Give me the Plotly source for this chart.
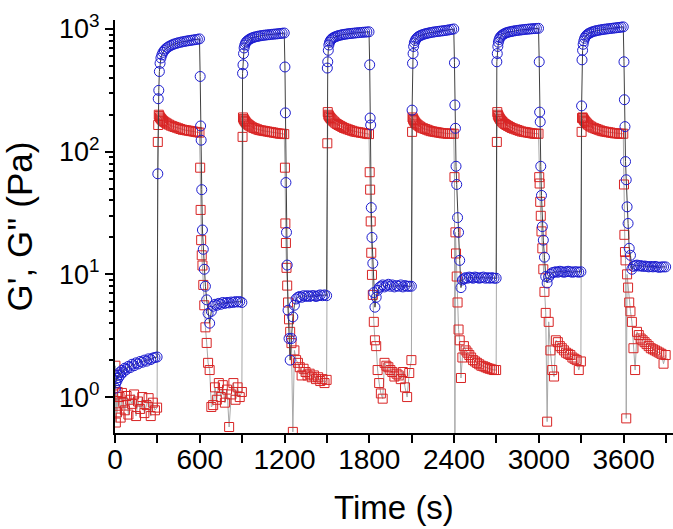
import plotly.graph_objects as go

# start time of each strain step (s) and the sampling times inside one step (s)
step_start = [0, 300, 600, 900, 1200, 1500, 1800, 2100, 2400, 2700, 3000, 3300, 3600]
step_offsets = [3, 6, 10, 14, 19, 25, 32, 40, 49, 59, 70, 82, 95, 108, 121, 135,
                149, 163, 178, 193, 208, 223, 238, 253, 268, 283, 298]

# G' (Pa), one list per step
g1_0 = [1.18, 1.3, 1.42, 1.36, 1.5, 1.44, 1.58, 1.52, 1.65, 1.6, 1.72, 1.68, 1.78, 1.74,
        1.85, 1.8, 1.9, 1.86, 1.95, 1.92, 2.0, 1.96, 2.05, 2.02, 2.08, 2.1, 2.12]
g1_300 = [66, 270, 316, 450, 525, 580, 615, 645, 668, 688, 705, 720, 733, 745, 755, 764,
          772, 779, 786, 792, 798, 803, 808, 813, 818, 823, 830]
g1_600 = [410, 162, 124, 49, 23, 16, 11, 8, 6.2, 4.8, 4.0, 5.0, 5.5, 5.7, 5.6, 5.8, 5.7,
          5.9, 5.8, 5.9, 5.85, 5.95, 5.9, 6.0, 5.95, 6.0, 5.9]
g1_900 = [435, 510, 630, 700, 740, 770, 790, 805, 820, 833, 845, 855, 863, 870, 876, 882,
          887, 891, 895, 899, 903, 907, 910, 914, 918, 922, 927]
g1_1200 = [490, 207, 56, 22, 11.9, 5.1, 3.0, 2.0, 3.0, 4.5, 5.6, 6.3, 6.5, 6.6, 6.5, 6.7,
           6.6, 6.7, 6.6, 6.7, 6.7, 6.6, 6.7, 6.8, 6.7, 6.8, 6.7]
g1_1500 = [480, 540, 670, 740, 780, 805, 825, 840, 852, 863, 873, 882, 890, 897, 903, 908,
           913, 917, 921, 925, 929, 933, 936, 939, 942, 945, 948]
g1_1800 = [510, 188, 165, 35, 20, 12.3, 7.1, 5.4, 6.5, 7.4, 7.8, 8.0, 8.2, 7.9, 8.1, 8.3,
           8.0, 8.2, 7.9, 8.1, 8.0, 8.2, 7.9, 8.1, 8.0, 8.0, 8.0]
g1_2100 = [218, 525, 630, 720, 770, 805, 830, 850, 866, 880, 892, 903, 912, 920, 928, 935,
           941, 947, 952, 957, 962, 967, 972, 978, 985, 992, 1000]
g1_2400 = [530, 240, 155, 76, 54, 29, 22, 13, 7.8, 9.0, 9.2, 9.4, 9.3, 9.5, 9.4, 9.3, 9.5,
           9.4, 9.3, 9.4, 9.5, 9.3, 9.4, 9.3, 9.4, 9.3, 9.3]
g1_2700 = [540, 630, 720, 780, 820, 850, 872, 890, 905, 918, 930, 940, 948, 955, 962, 968,
           973, 978, 983, 988, 992, 996, 1000, 1004, 1007, 1010, 1012]
g1_3000 = [540, 210, 175, 76, 44, 24.5, 19, 13.8, 9.6, 8.5, 9.5, 10.0, 10.3, 10.4, 10.5,
           10.4, 10.6, 10.5, 10.4, 10.5, 10.6, 10.5, 10.4, 10.5, 10.5, 10.4, 10.5]
g1_3300 = [236, 560, 670, 750, 800, 840, 870, 892, 910, 925, 938, 950, 960, 968, 975, 982,
           988, 994, 999, 1004, 1009, 1014, 1019, 1024, 1029, 1034, 1040]
g1_3600 = [540, 265, 160, 83, 59, 35.5, 26, 16.3, 14.3, 11.0, 11.6, 11.8, 11.9, 11.7, 11.8,
           11.6, 11.7, 11.6, 11.5, 11.6, 11.5, 11.6, 11.5, 11.4, 11.5, 11.5, 11.5]

# G'' (Pa), one list per step
g2_0 = [1.8, 0.62, 1.05, 0.75, 1.1, 0.85, 1.0, 0.68, 1.08, 0.9, 0.78, 1.02, 0.72, 0.95,
        0.88, 1.05, 0.7, 0.92, 0.8, 1.0, 0.74, 0.86, 0.98, 0.7, 0.9, 0.78, 0.82]
g2_300 = [120, 165, 200, 195, 190, 186, 182, 178, 175, 172, 169, 166, 163, 161, 159, 157,
          155, 153, 151, 150, 149, 148, 147, 146, 145, 144, 143]
g2_600 = [74, 33.5, 19, 14.3, 11.8, 8.2, 5.6, 3.7, 2.76, 1.9, 1.66, 0.83, 0.86, 1.2, 0.95,
          1.3, 1.0, 1.25, 0.9, 1.15, 0.57, 1.05, 1.3, 0.95, 1.2, 1.0, 1.1]
g2_900 = [132, 190, 185, 182, 178, 174, 170, 167, 164, 161, 158, 156, 154, 152, 150, 149,
          148, 147, 146, 145, 144, 143, 142, 141, 140, 140, 139]
g2_1200 = [74, 26, 18, 11.3, 8.1, 5.9, 4.3, 3.4, 2.75, 0.52, 2.4, 2.0, 1.9, 1.75, 1.5, 1.7,
           1.6, 1.5, 1.55, 1.45, 1.5, 1.4, 1.45, 1.35, 1.4, 1.3, 1.38]
g2_1500 = [117, 210, 200, 196, 192, 188, 184, 180, 176, 172, 168, 165, 162, 159, 156, 154,
           152, 150, 148, 146, 145, 144, 143, 142, 141, 140, 139]
g2_1800 = [68, 49, 27, 15, 9.9, 6.8, 4.1, 2.9, 2.6, 1.66, 1.3, 1.07, 0.97, 1.9, 1.8, 1.75,
           1.66, 1.6, 1.47, 1.55, 1.5, 1.4, 1.6, 1.2, 1.0, 1.57, 2.0]
g2_2100 = [145, 190, 185, 181, 177, 173, 169, 166, 163, 160, 157, 155, 153, 151, 149, 147,
           146, 145, 144, 143, 142, 141, 141, 140, 140, 140, 140]
g2_2400 = [62, 0.3, 22, 14.8, 9.6, 5.9, 3.55, 2.9, 1.43, 2.1, 2.6, 2.4, 2.3, 2.2, 2.1, 2.0,
           1.95, 1.9, 1.85, 1.8, 1.78, 1.75, 1.72, 1.7, 1.68, 1.66, 1.66]
g2_2700 = [120, 210, 200, 195, 190, 185, 180, 176, 172, 168, 165, 162, 159, 156, 154, 152,
           150, 148, 146, 145, 144, 143, 142, 141, 140, 140, 140]
g2_3000 = [62, 55, 39, 30, 22.4, 16.3, 11, 7.2, 4.85, 0.63, 4.1, 2.4, 1.66, 1.47, 2.9, 2.8,
           2.6, 2.5, 2.4, 2.3, 2.25, 2.2, 2.1, 2.05, 2.0, 1.66, 1.95]
g2_3300 = [145, 188, 190, 186, 182, 178, 174, 170, 166, 163, 160, 157, 155, 153, 151, 149,
           147, 146, 145, 144, 143, 142, 141, 141, 140, 140, 140]
g2_3600 = [54, 21, 15.2, 13, 0.67, 10, 7.8, 5.9, 5.0, 4.1, 2.5, 1.66, 3.4, 3.2, 3.0, 2.9,
           2.8, 2.7, 2.6, 2.5, 2.45, 2.4, 2.35, 2.3, 2.25, 1.87, 2.2]

g1_steps = [g1_0, g1_300, g1_600, g1_900, g1_1200, g1_1500, g1_1800, g1_2100, g1_2400,
            g1_2700, g1_3000, g1_3300, g1_3600]
g2_steps = [g2_0, g2_300, g2_600, g2_900, g2_1200, g2_1500, g2_1800, g2_2100, g2_2400,
            g2_2700, g2_3000, g2_3300, g2_3600]

x_ticks = [0, 600, 1200, 1800, 2400, 3000, 3600]
y_ticks = [1, 10, 100, 1000]
y_ticktext = ["10<sup>0</sup>", "10<sup>1</sup>", "10<sup>2</sup>", "10<sup>3</sup>"]

time = [s + o for s in step_start for o in step_offsets]
g_storage = [v for step in g1_steps for v in step]
g_loss = [v for step in g2_steps for v in step]

fig = go.Figure()
# open markers take their outline colour from marker.color
fig.add_trace(go.Scatter(x=time, y=g_loss, mode="lines+markers", name="G''",
                         line=dict(color="#a8a8a8", width=1),
                         marker=dict(symbol="square-open", size=9, color="#d82424",
                                     line=dict(width=1))))
fig.add_trace(go.Scatter(x=time, y=g_storage, mode="lines+markers", name="G'",
                         line=dict(color="#404040", width=1),
                         marker=dict(symbol="circle-open", size=10, color="#1c1cd0",
                                     line=dict(width=1))))

minor_y = [m * d for d in (1, 10, 100) for m in range(2, 10)]

fig.update_xaxes(range=[0, 3950], tickvals=x_ticks, showline=True, linecolor="black",
                 linewidth=2, ticks="outside", ticklen=8, tickwidth=2, tickcolor="black",
                 showgrid=False, zeroline=False, automargin=False, ticklabelstandoff=-8,
                 minor=dict(tickvals=[300, 900, 1500, 2100, 2700, 3300, 3900],
                            ticks="outside", ticklen=8, tickwidth=2, tickcolor="black"),
                 tickfont=dict(size=28, color="black"),
                 title=dict(text="Time (s)", font=dict(size=33, color="black"), standoff=22))
fig.update_yaxes(type="log", range=[-0.293, 3.073], tickvals=y_ticks, ticktext=y_ticktext,
                 showline=True, linecolor="black", linewidth=2, ticks="outside", ticklen=8,
                 tickwidth=2, tickcolor="black", showgrid=False, zeroline=False,
                 automargin=False,
                 minor=dict(tickvals=minor_y, ticks="outside", ticklen=4, tickwidth=1.5,
                            tickcolor="black"),
                 tickfont=dict(size=27, color="black"),
                 title=dict(text="G', G'' (Pa)", font=dict(size=35, color="black"), standoff=24))
fig.update_layout(width=673, height=529, showlegend=False,
                  margin=dict(l=115, r=0, t=20, b=96),
                  plot_bgcolor="white", paper_bgcolor="white",
                  font=dict(family="Liberation Sans, Arial, sans-serif", color="black"))

# the page's default body margin would shift the fixed-size figure
fig.write_html("out.html", config={"displayModeBar": False},
               post_script="document.body.style.margin = '0px';")
